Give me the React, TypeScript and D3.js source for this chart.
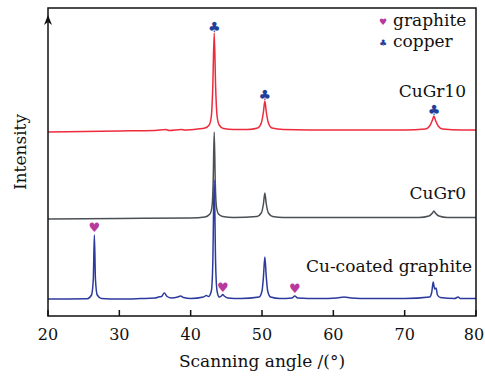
import React from 'react';
import * as d3 from 'd3';

// XRD patterns, intensity in arbitrary units above each trace's own baseline
const cuGr10: [number, number][] = [
  [20, 0], [30, 1], [35, 1.5], [36.5, 2.5], [37, 1.5], [38.7, 2.5], [39.2, 2], [41, 3], [42, 4],
  [42.6, 7], [42.9, 16], [43.1, 45], [43.3, 99], [43.5, 45], [43.7, 16], [44, 7], [44.6, 3.5],
  [46, 2.5], [48, 2.5], [49.4, 4], [49.9, 9], [50.2, 20], [50.4, 31], [50.6, 20], [50.9, 9],
  [51.4, 4], [53, 2.5], [60, 2], [70, 2], [72.9, 3], [73.5, 6], [73.9, 12], [74.1, 16],
  [74.3, 12], [74.7, 6], [75.3, 3], [78, 2], [80, 2],
];

const cuGr0: [number, number][] = [
  [20, -1], [30, -0.5], [40, 0], [42, 1], [42.7, 4], [43.0, 12], [43.15, 35], [43.3, 86],
  [43.45, 35], [43.6, 12], [43.9, 4], [44.5, 1.5], [46, 0.5], [49.3, 1.5], [49.9, 5],
  [50.2, 14], [50.4, 25], [50.6, 14], [50.9, 5], [51.5, 1.5], [53, 0.5], [72, 0.5],
  [73.4, 2], [73.9, 5], [74.1, 7], [74.3, 5], [74.8, 2], [76, 0.5], [80, 0.5],
];

const cuCoated: [number, number][] = [
  [20, 0], [25.5, 0.3], [26.1, 4], [26.35, 20], [26.5, 64], [26.65, 20], [26.9, 4], [27.5, 0.5],
  [30, 0], [33, 0.5], [35, 1], [35.5, 2], [35.9, 2.5], [36.3, 6], [36.7, 2.5], [37.3, 1],
  [38.2, 2], [38.6, 3], [39.0, 1.5], [40, 0.5], [41.8, 2], [42.2, 3.5], [42.5, 2.5], [42.9, 8],
  [43.1, 35], [43.3, 119], [43.5, 35], [43.7, 8], [44.0, 2], [44.3, 3], [44.5, 4.5], [44.7, 3],
  [45.2, 1], [47, 0.5], [49.6, 2], [50.0, 8], [50.2, 22], [50.4, 42], [50.6, 22], [50.8, 8],
  [51.2, 2], [52.5, 0.5], [54.2, 1], [54.6, 3], [55, 1], [58, 0.5], [60.5, 1], [61.5, 2],
  [62.5, 1], [65, 0.5], [70, 0.5], [73.5, 2], [73.8, 7], [74.0, 17], [74.2, 10], [74.4, 11],
  [74.6, 4], [75, 1.5], [77, 0.5], [77.5, 2], [77.8, 0.5], [80, 0.5],
];

// vertical offsets of the stacked traces
const offsets = [184, 98, 17];
const seriesNames = ['CuGr10', 'CuGr0', 'Cu-coated graphite'];
const seriesColors = ['#ee2b3d', '#4b5055', '#2c3a9e'];

// peak markers: [angle, peak height] on the trace they mark
const copperPeaks: [number, number][] = [[43.3, 99], [50.4, 31], [74.1, 16]];
const graphitePeaks: [number, number][] = [[26.5, 64], [44.5, 4.5], [54.6, 3]];

const xTicks = [20, 30, 40, 50, 60, 70, 80];

const W = 485, H = 378;
const m = { left: 48, right: 9, top: 8, bottom: 62 };

export default function App() {
  const x = d3.scaleLinear().domain([20, 80]).range([m.left, W - m.right]);
  const y = d3.scaleLinear().domain([0, H - m.top - m.bottom]).range([H - m.bottom, m.top]);
  const all = [cuGr10, cuGr0, cuCoated];
  const font = '"DejaVu Serif", serif';
  const ink = '#111';
  const heart = '#b8399b';
  const club = '#1f3f9a';

  return (
    <svg width={W} height={H} style={{ position: 'absolute', left: 0, top: 0 }}>
      <rect width={W} height={H} fill="#fff" />
      {all.map((s, i) => {
        const line = d3.line<[number, number]>()
          .x(d => x(d[0]))
          .y(d => y(d[1] + offsets[i]))
          .curve(d3.curveMonotoneX);
        return <path key={i} d={line(s) || ''} fill="none" stroke={seriesColors[i]} strokeWidth={1.5} />;
      })}

      {copperPeaks.map(([a, h], i) => (
        <text key={'c' + i} x={x(a)} y={y(h + offsets[0]) - 1} fontSize={14} textAnchor="middle"
          fill={club} fontFamily="DejaVu Sans">♣</text>
      ))}
      {graphitePeaks.map(([a, h], i) => (
        <text key={'g' + i} x={x(a)} y={y(h + offsets[2]) - 3} fontSize={13} textAnchor="middle"
          fill={heart} fontFamily="DejaVu Sans">♥</text>
      ))}

      {/* frame */}
      <path d={`M${m.left},${m.top} H${W - m.right} V${H - m.bottom} H${m.left} Z`}
        fill="none" stroke={ink} strokeWidth={1.5} />
      <path d={`M${m.left},${m.top + 7} L${m.left - 4},${m.top + 17} L${m.left},${m.top + 14} L${m.left + 4},${m.top + 17} Z`}
        fill={ink} />
      {xTicks.map(t => (
        <g key={t}>
          <line x1={x(t)} x2={x(t)} y1={H - m.bottom} y2={H - m.bottom - 6} stroke={ink} strokeWidth={1.5} />
          <text x={t === 80 ? x(t) - 2 : x(t)} y={340} fontSize={16} textAnchor="middle" fontFamily={font} fill={ink}>{t}</text>
        </g>
      ))}

      <text x={262} y={367} fontSize={17} textAnchor="middle" fontFamily={font} fill={ink}>Scanning angle /(°)</text>
      <text transform="translate(26,152) rotate(-90)" fontSize={17} textAnchor="middle" fontFamily={font} fill={ink}>Intensity</text>

      <text x={466} y={97} fontSize={17} textAnchor="end" fontFamily={font} fill={ink}>{seriesNames[0]}</text>
      <text x={466} y={199} fontSize={17} textAnchor="end" fontFamily={font} fill={ink}>{seriesNames[1]}</text>
      <text x={472} y={272} fontSize={17} textAnchor="end" fontFamily={font} fill={ink}>{seriesNames[2]}</text>

      {/* legend */}
      <text x={383} y={25} fontSize={9} textAnchor="middle" fill={heart} fontFamily="DejaVu Sans">♥</text>
      <text x={393} y={26} fontSize={17} fontFamily={font} fill={ink}>graphite</text>
      <text x={383} y={46} fontSize={9} textAnchor="middle" fill={club} fontFamily="DejaVu Sans">♣</text>
      <text x={393} y={47} fontSize={17} fontFamily={font} fill={ink}>copper</text>
    </svg>
  );
}
